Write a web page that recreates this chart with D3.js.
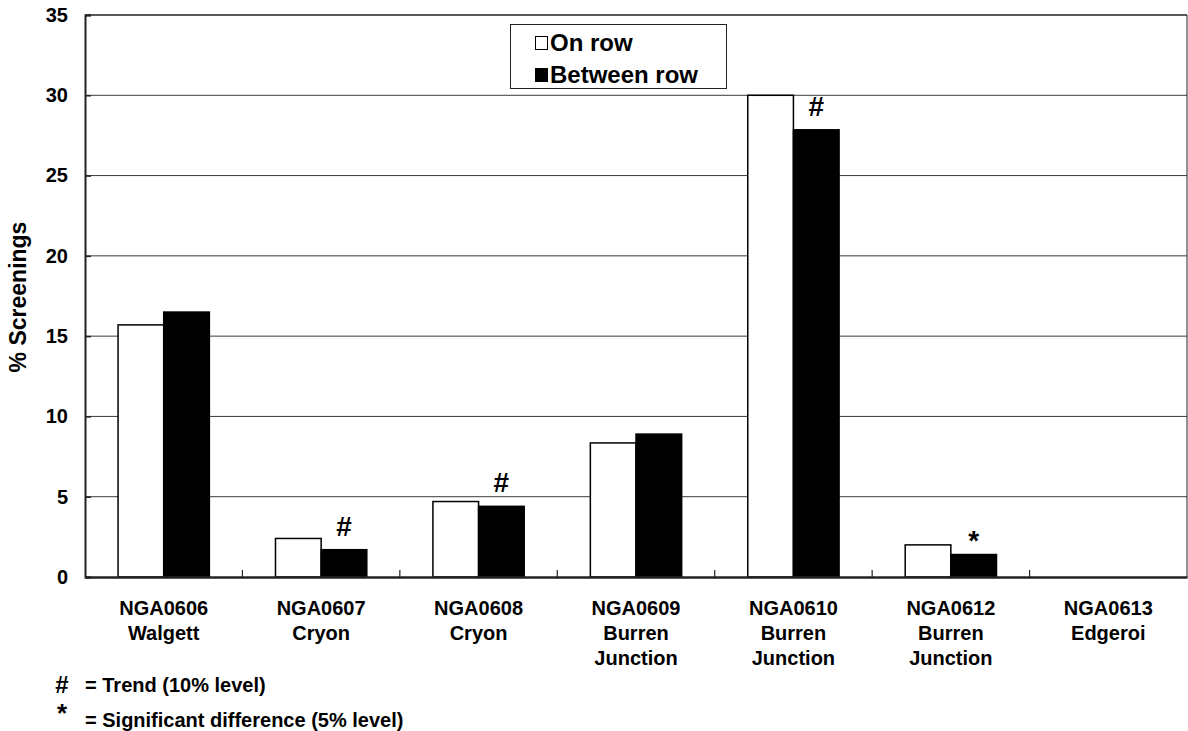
<!DOCTYPE html>
<html>
<head>
<meta charset="utf-8">
<script src="https://cdn.jsdelivr.net/npm/d3@7/dist/d3.min.js"></script>
<style>
  html, body { margin: 0; padding: 0; background: #fff; }
  text { font-family: "Liberation Sans", Arial, sans-serif; font-weight: bold; fill: #000; }
</style>
</head>
<body>
<svg id="chart" width="1188" height="731"></svg>
<script>
// Trial sites (code + location lines)
const sites = [
  ["NGA0606", "Walgett"],
  ["NGA0607", "Cryon"],
  ["NGA0608", "Cryon"],
  ["NGA0609", "Burren", "Junction"],
  ["NGA0610", "Burren", "Junction"],
  ["NGA0612", "Burren", "Junction"],
  ["NGA0613", "Edgeroi"]
];
const seriesNames = ["On row", "Between row"];
// % screenings per site
const onRow      = [15.7, 2.4, 4.7, 8.35, 30.0, 2.0, 0];
const betweenRow = [16.5, 1.7, 4.4, 8.9, 27.85, 1.4, 0];
// significance flags shown above each pair
const flags = ["", "#", "#", "", "#", "*", ""];
const yTicks = [0, 5, 10, 15, 20, 25, 30, 35];
const footnotes = [
  ["#", "= Trend (10% level)"],
  ["*", "= Significant difference (5% level)"]
];

const svg = d3.select("#chart");
const plot = { left: 85, right: 1187, top: 15, bottom: 577 };

const codes = sites.map(s => s[0]);
const x = d3.scaleBand().domain(codes).range([plot.left, plot.right]).padding(0);
const bw = x.bandwidth();
const x1 = d3.scaleBand().domain(seriesNames).range([bw * 0.21, bw * 0.79]).padding(0);
const y = d3.scaleLinear().domain([0, 35]).range([plot.bottom, plot.top]);

// horizontal gridlines
svg.append("g").selectAll("line").data(yTicks.filter(t => t > 0 && t < 35)).join("line")
  .attr("x1", plot.left).attr("x2", plot.right)
  .attr("y1", d => y(d)).attr("y2", d => y(d))
  .attr("stroke", "#3a3a3a").attr("stroke-width", 1);

// frame: top and right edges
svg.append("line").attr("x1", plot.left).attr("x2", plot.right)
  .attr("y1", y(35)).attr("y2", y(35)).attr("stroke", "#222").attr("stroke-width", 1.5);
svg.append("line").attr("x1", plot.right).attr("x2", plot.right)
  .attr("y1", y(35)).attr("y2", y(0)).attr("stroke", "#222").attr("stroke-width", 1);

// bars
const rows = codes.map((c, i) => ({ code: c, vals: [onRow[i], betweenRow[i]] }));
const groups = svg.append("g").selectAll("g").data(rows).join("g")
  .attr("transform", d => `translate(${x(d.code)},0)`);
groups.selectAll("rect")
  .data(d => d.vals.map((v, k) => ({ s: seriesNames[k], v, k })).filter(e => e.v > 0))
  .join("rect")
  .attr("x", e => x1(e.s))
  .attr("width", x1.bandwidth())
  .attr("y", e => y(e.v))
  .attr("height", e => y(0) - y(e.v))
  .attr("fill", e => e.k === 0 ? "#fff" : "#000")
  .attr("stroke", "#000").attr("stroke-width", 1.5);

// significance flags above the between-row bar
svg.append("g").selectAll("text").data(rows.map((r, i) => ({ r, f: flags[i] })).filter(d => d.f))
  .join("text")
  .attr("x", d => x(d.r.code) + x1("Between row") + x1.bandwidth() / 2)
  .attr("y", d => y(d.r.vals[1]) - (d.f === "*" ? 5 : 14))
  .attr("text-anchor", "middle")
  .style("font-size", "28px")
  .text(d => d.f);

// y axis
const yAxis = d3.axisLeft(y).tickValues(yTicks).tickSize(-6).tickPadding(17).tickFormat(d3.format("d"));
const gy = svg.append("g").attr("transform", `translate(${plot.left},0)`).call(yAxis);
gy.select(".domain").attr("stroke", "#222").attr("stroke-width", 2);
gy.selectAll(".tick line").attr("stroke", "#222").attr("stroke-width", 1.5);
gy.selectAll(".tick text").style("font-size", "20px").style("font-family", "Liberation Sans, Arial, sans-serif").style("font-weight", "bold");

// x axis with tick marks on category boundaries
const xAxis = d3.axisBottom(x).tickSize(0).tickFormat("");
const gx = svg.append("g").attr("transform", `translate(0,${plot.bottom})`).call(xAxis);
gx.select(".domain").attr("stroke", "#222").attr("stroke-width", 2.5);
svg.append("g").selectAll("line").data(codes.slice(1)).join("line")
  .attr("x1", d => x(d)).attr("x2", d => x(d))
  .attr("y1", plot.bottom).attr("y2", plot.bottom - 7)
  .attr("stroke", "#222").attr("stroke-width", 1.2);

// category labels
const lab = svg.append("g").selectAll("text").data(sites).join("text")
  .attr("x", d => x(d[0]) + bw / 2)
  .attr("y", 615)
  .attr("text-anchor", "middle")
  .style("font-size", "20px");
lab.selectAll("tspan").data(d => d).join("tspan")
  .attr("x", function () { return d3.select(this.parentNode).attr("x"); })
  .attr("dy", (d, i) => i === 0 ? 0 : 25)
  .text(d => d);

// y title
svg.append("text")
  .attr("transform", "translate(26,297) rotate(-90)")
  .attr("text-anchor", "middle")
  .style("font-size", "23px")
  .text("% Screenings");

// legend
const lg = svg.append("g");
lg.append("rect").attr("x", 510.5).attr("y", 24.5).attr("width", 216).attr("height", 64)
  .attr("fill", "#fff").attr("stroke", "#222").attr("stroke-width", 1);
seriesNames.forEach((s, i) => {
  const base = 51 + i * 32;
  lg.append("rect").attr("x", 535.5).attr("y", base - 14.5).attr("width", 12).attr("height", 13)
    .attr("fill", i === 0 ? "#fff" : "#000").attr("stroke", "#000").attr("stroke-width", 1);
  lg.append("text").attr("x", 550).attr("y", base).style("font-size", "24px").text(s);
});

// footnotes
const fn = svg.append("g");
footnotes.forEach((f, i) => {
  fn.append("text").attr("x", 62).attr("y", i === 0 ? 693 : 722)
    .attr("text-anchor", "middle").style("font-size", i === 0 ? "24px" : "26px").text(f[0]);
  fn.append("text").attr("x", 85).attr("y", i === 0 ? 692 : 727)
    .style("font-size", "20px").text(f[1]);
});
</script>
</body>
</html>
